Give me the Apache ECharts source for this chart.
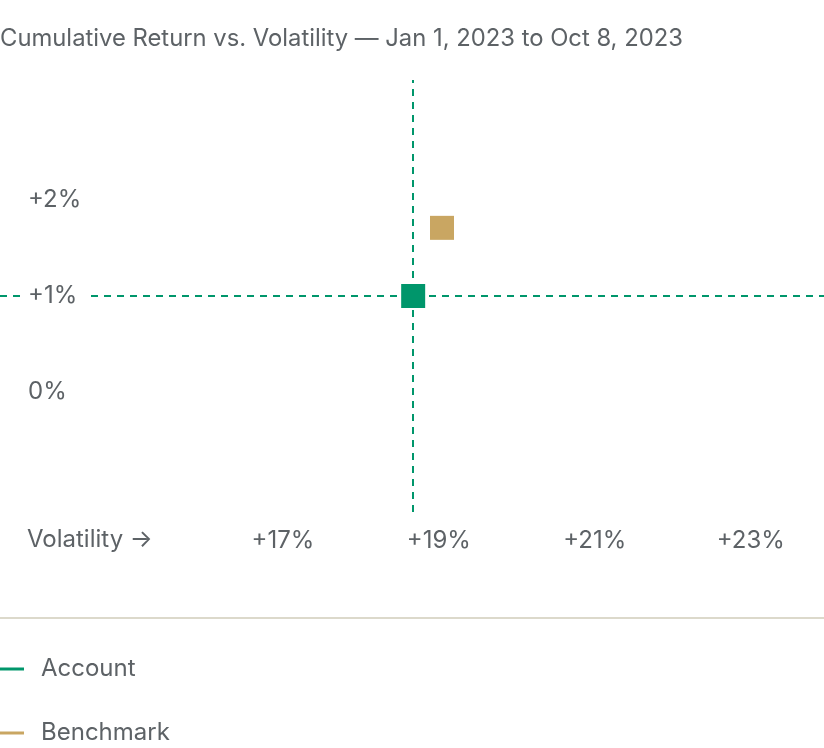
<!DOCTYPE html>
<html>
<head>
<meta charset="utf-8">
<script src="https://cdn.jsdelivr.net/npm/echarts@6/dist/echarts.min.js"></script>
<style>
html,body{margin:0;padding:0;background:#fff;}
#chart{width:824px;height:748px;}
</style>
</head>
<body>
<div id="chart"></div>
<script>
const titleText = 'Cumulative Return vs. Volatility — Jan 1, 2023 to Oct 8, 2023';
const seriesNames = ['Account', 'Benchmark'];
const volatility = [18.67, 19.04];   // x, %
const cumReturn = [1.0, 1.71];       // y, %
const xTicks = [17, 19, 21, 23];
const yTicks = [0, 1, 2];
const xAxisTitle = 'Volatility →';

const GREEN = '#00966b';
const TAN = '#c9a662';
const TEXT = '#5d6266';
const FONT = 'Inter';
const FS = 24;

const chart = echarts.init(document.getElementById('chart'), null, {renderer: 'canvas'});
const fmt = v => (v > 0 ? '+' : '') + v + '%';

const colors = [GREEN, TAN];
const series = seriesNames.map((name, i) => ({
  name: name,
  type: 'scatter',
  symbol: 'rect',
  symbolSize: 24,
  itemStyle: {color: colors[i], opacity: 1},
  data: [[volatility[i], cumReturn[i]]],
  z: 5
}));
// reference cross-hair through the Account point, drawn beneath the markers
series.unshift({
  name: 'crosshair',
  type: 'scatter',
  symbolSize: 0,
  data: [],
  z: 1,
  markLine: {
    silent: true,
    symbol: 'none',
    label: {show: false},
    lineStyle: {color: GREEN, type: [7, 6], width: 2},
    data: [{xAxis: volatility[0]}, {yAxis: cumReturn[0]}]
  }
});

chart.setOption({
  animation: false,
  backgroundColor: '#fff',
  textStyle: {fontFamily: FONT},
  title: {
    text: titleText,
    left: 0, top: 27, padding: 0,
    textStyle: {fontFamily: FONT, fontSize: 23.8, fontWeight: 'normal', color: TEXT}
  },
  grid: {left: 0, right: 0, top: 80, bottom: 236, containLabel: false},
  xAxis: {
    type: 'value', min: 13.37, max: 23.94,
    axisLine: {show: false}, axisTick: {show: false}, splitLine: {show: false},
    axisLabel: {
      customValues: xTicks, formatter: fmt, margin: 17,
      fontFamily: FONT, fontSize: FS, color: TEXT
    }
  },
  yAxis: {
    type: 'value', min: -1.25, max: 3.25, z: 10,
    axisLine: {show: false}, axisTick: {show: false}, splitLine: {show: false},
    axisLabel: {
      customValues: yTicks, formatter: fmt, inside: true, margin: 20,
      align: 'left',
      fontFamily: FONT, fontSize: FS, color: TEXT,
      backgroundColor: '#fff', padding: [8, 12, 0, 8]
    }
  },
  legend: {
    orient: 'vertical', left: 0, top: 655, padding: 0,
    itemWidth: 24, itemHeight: 3, itemGap: 36,
    data: seriesNames.map(n => ({name: n, icon: 'rect'})),
    textStyle: {fontFamily: FONT, fontSize: FS, color: TEXT, lineHeight: 28, padding: [0, 0, 0, 12]}
  },
  graphic: [
    {type: 'text', left: 27, top: 528,
     style: {text: xAxisTitle, fontFamily: FONT, fontSize: FS, fill: TEXT}},
    {type: 'line', shape: {x1: 0, y1: 618, x2: 824, y2: 618},
     style: {stroke: '#dcd9cb', lineWidth: 2}}
  ],
  series: series
});
</script>
</body>
</html>
